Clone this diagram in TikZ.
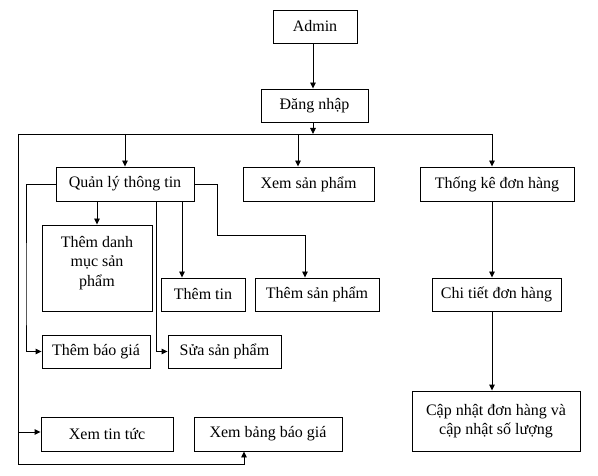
\documentclass[tikz,border=0pt]{standalone}
\usepackage{fontspec}
\setmainfont{Liberation Serif}
\usetikzlibrary{arrows.meta}
\begin{document}
\begin{tikzpicture}[x=1pt,y=-1pt,
  box/.style={draw,line width=0.9pt,inner sep=1pt,align=center,
    font=\fontsize{16}{19.5}\selectfont},
  ln/.style={line width=0.9pt},
  arr/.style={ln,-{Triangle[length=6pt,width=5.5pt]}}]
\useasboundingbox (0,0) rectangle (598,476);
\node[box,minimum width=84pt,minimum height=33pt] (admin) at (315,26.5) {Admin};
\node[box,minimum width=107pt,minimum height=33pt] (login) at (314.5,105.5) {Đăng nhập};
\node[box,minimum width=138pt,minimum height=34pt] (qly) at (125,184) {Quản lý thông tin};
\node[box,minimum width=131pt,minimum height=34pt] (xsp) at (308.5,184) {Xem sản phẩm};
\node[box,minimum width=154pt,minimum height=34pt] (tk) at (497,184) {Thống kê đơn hàng};
\node[box,minimum width=110pt,minimum height=86pt] (tdm) at (97,268) {Thêm danh\\mục sản\\phẩm\\[-6pt]};
\node[box,minimum width=84pt,minimum height=33pt] (tt) at (203,294.5) {Thêm tin};
\node[box,minimum width=124pt,minimum height=33pt] (tsp) at (317,294.5) {Thêm sản phẩm};
\node[box,minimum width=129pt,minimum height=33pt] (ct) at (496.5,294.5) {Chi tiết đơn hàng};
\node[box,minimum width=108pt,minimum height=33pt] (tbg) at (96,351.5) {Thêm báo giá};
\node[box,minimum width=113pt,minimum height=33pt] (ssp) at (224.5,351.5) {Sửa sản phẩm};
\node[box,minimum width=132pt,minimum height=34pt] (xtt) at (107,434) {Xem tin tức};
\node[box,minimum width=148pt,minimum height=34pt] (xbg) at (268,434) {Xem bảng báo giá};
\node[box,minimum width=168pt,minimum height=60pt] (cn) at (496,421) {Cập nhật đơn hàng và\\cập nhật số lượng};
\coordinate (busL) at (18,134);
\coordinate (busR) at (492,134);
\coordinate (bl) at (18,464);
\coordinate (bxs) at (298,134);
% top
\draw[arr] (admin.south -| 313,0) -- (login.north -| 313,0);
\draw[arr] (login.south -| 313,0) -- (313,134);
\draw[ln] (busL) -- (busR);
\draw[arr] (qly.north |- busL) -- (qly.north);
\draw[arr] (bxs) -- (bxs |- xsp.north);
\draw[arr] (busR) -- (busR |- tk.north);
\draw[arr] (busR |- tk.south) -- (busR |- ct.north);
\draw[arr] (busR |- ct.south) -- (busR |- cn.north);
% left outer
\draw[arr] (busL) -- (bl) -| (xbg.south -| 244,0);
\draw[arr] (busL |- 0,432) -- (xtt.west |- 0,432);
% from Quan ly
\draw[arr] (qly.west) -| (26,300) |- (tbg.west);
\draw[arr] (tdm.north |- qly.south) -- (tdm.north);
\draw[arr] (qly.south -| 182,0) -- (tt.north -| 182,0);
\draw[arr] (qly.south -| 156,0) |- (ssp.west);
\draw[arr] (qly.east) -| (217,235) -| (tsp.north -| 305,0);
\end{tikzpicture}
\end{document}
